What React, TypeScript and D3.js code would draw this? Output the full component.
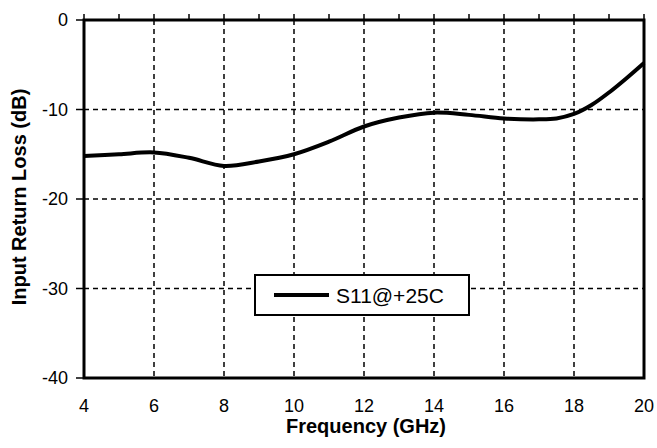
import React, { useEffect, useRef } from 'react';
import * as d3 from 'd3';

// S11 input return loss
const FREQ = [4, 5, 6, 7, 8, 9, 10, 11, 12, 13, 14, 15, 16, 17, 17.5, 18, 18.5, 19, 19.5, 20];
const S11 = [-15.2, -15.0, -14.8, -15.4, -16.3, -15.8, -15.0, -13.6, -11.9, -10.9, -10.35, -10.6, -11.0, -11.1, -11.0, -10.5, -9.5, -8.1, -6.5, -4.8];
const X_TICKS = [4, 6, 8, 10, 12, 14, 16, 18, 20];
const X_MINOR = d3.range(4, 21, 1);
const Y_TICKS = [0, -10, -20, -30, -40];
const LEGEND_LABEL = 'S11@+25C';

const W = 657;
const H = 448;
const margin = { top: 20, right: 13, bottom: 70, left: 84 };
const FONT = 'Arial, "Liberation Sans", sans-serif';

export default function App() {
  const ref = useRef<SVGSVGElement>(null);

  useEffect(() => {
    const svg = d3.select(ref.current);
    svg.selectAll('*').remove();

    const x = d3.scaleLinear().domain([4, 20]).range([margin.left, W - margin.right]);
    const y = d3.scaleLinear().domain([-40, 0]).range([H - margin.bottom, margin.top]);

    svg.append('rect').attr('width', W).attr('height', H).attr('fill', '#fff');

    // dashed grid
    const grid = svg.append('g').attr('stroke', '#000').attr('stroke-width', 1.5).attr('stroke-dasharray', '5,4');
    grid.selectAll('.vg')
      .data(X_TICKS.slice(1, -1))
      .enter().append('line')
      .attr('x1', d => x(d)).attr('x2', d => x(d))
      .attr('y1', y(0)).attr('y2', y(-40));
    grid.selectAll('.hg')
      .data(Y_TICKS.slice(1, -1))
      .enter().append('line')
      .attr('x1', x(4)).attr('x2', x(20))
      .attr('y1', d => y(d)).attr('y2', d => y(d));

    // top minor ticks
    svg.append('g').selectAll('line')
      .data(X_MINOR)
      .enter().append('line')
      .attr('x1', d => x(d)).attr('x2', d => x(d))
      .attr('y1', y(0)).attr('y2', y(0) - 6)
      .attr('stroke', '#000').attr('stroke-width', 1.5);

    // left ticks
    svg.append('g').selectAll('line')
      .data(Y_TICKS)
      .enter().append('line')
      .attr('x1', x(4) - 8).attr('x2', x(4))
      .attr('y1', d => y(d)).attr('y2', d => y(d))
      .attr('stroke', '#000').attr('stroke-width', 1.5);

    // frame
    svg.append('rect')
      .attr('x', x(4)).attr('y', y(0))
      .attr('width', x(20) - x(4)).attr('height', y(-40) - y(0))
      .attr('fill', 'none').attr('stroke', '#000').attr('stroke-width', 3);

    // curve
    const line = d3.line<number>()
      .x((_, i) => x(FREQ[i]))
      .y(d => y(d))
      .curve(d3.curveCatmullRom.alpha(0.5));
    svg.append('path')
      .datum(S11)
      .attr('d', line)
      .attr('fill', 'none')
      .attr('stroke', '#000')
      .attr('stroke-width', 4)
      .attr('stroke-linejoin', 'round');

    // tick labels
    svg.append('g').selectAll('text')
      .data(X_TICKS)
      .enter().append('text')
      .attr('x', d => x(d)).attr('y', y(-40) + 34)
      .attr('text-anchor', 'middle')
      .attr('font-family', FONT).attr('font-size', 18)
      .text(d => d);
    svg.append('g').selectAll('text')
      .data(Y_TICKS)
      .enter().append('text')
      .attr('x', x(4) - 16).attr('y', d => y(d))
      .attr('dy', '0.35em')
      .attr('text-anchor', 'end')
      .attr('font-family', FONT).attr('font-size', 18)
      .text(d => d);

    // axis titles
    svg.append('text')
      .attr('x', 366).attr('y', 433)
      .attr('text-anchor', 'middle')
      .attr('font-family', FONT).attr('font-size', 20).attr('font-weight', 'bold')
      .text('Frequency (GHz)');
    svg.append('text')
      .attr('transform', 'translate(26,197) rotate(-90)')
      .attr('text-anchor', 'middle')
      .attr('font-family', FONT).attr('font-size', 20).attr('font-weight', 'bold')
      .text('Input Return Loss (dB)');

    // legend
    const lg = svg.append('g');
    lg.append('rect')
      .attr('x', 255).attr('y', 275).attr('width', 214).attr('height', 40)
      .attr('fill', '#fff').attr('stroke', '#000').attr('stroke-width', 2);
    lg.append('line')
      .attr('x1', 274).attr('x2', 329).attr('y1', 295).attr('y2', 295)
      .attr('stroke', '#000').attr('stroke-width', 4);
    lg.append('text')
      .attr('x', 336).attr('y', 303)
      .attr('font-family', FONT).attr('font-size', 21)
      .text(LEGEND_LABEL);
  }, []);

  return (
    <svg
      ref={ref}
      width={W}
      height={H}
      style={{ position: 'absolute', top: 0, left: 0, display: 'block' }}
    />
  );
}
